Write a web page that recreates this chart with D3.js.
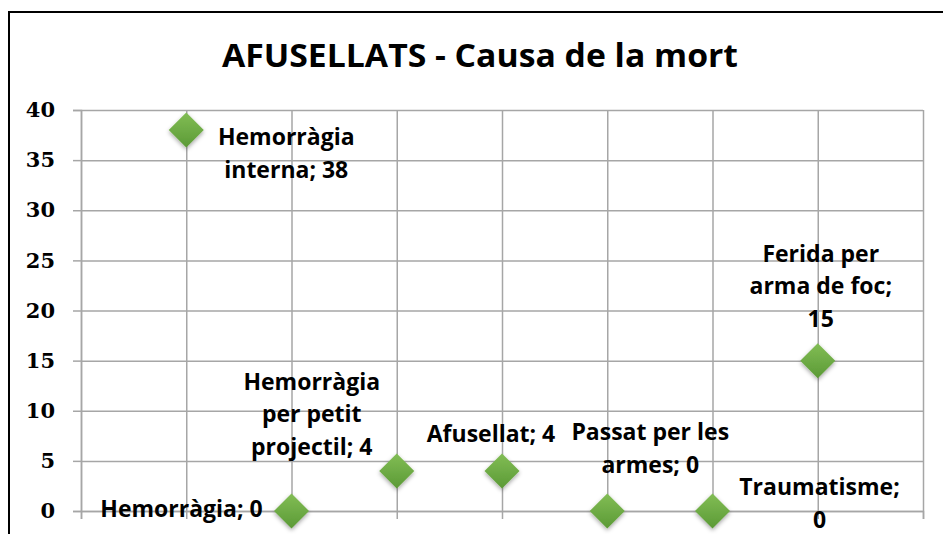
<!DOCTYPE html>
<html>
<head>
<meta charset="utf-8">
<script src="https://cdn.jsdelivr.net/npm/d3@7"></script>
<style>
  html, body { margin: 0; padding: 0; background: #fff; }
  svg { display: block; }
</style>
</head>
<body>
<svg id="chart" width="943" height="534"></svg>
<script>
// ---- data ----
const categories = [
  "Hemorràgia interna",
  "Hemorràgia",
  "Hemorràgia per petit projectil",
  "Afusellat",
  "Passat per les armes",
  "Traumatisme",
  "Ferida per arma de foc"
];
const xValues = [1, 2, 3, 4, 5, 6, 7];
const yValues = [38, 0, 4, 4, 0, 0, 15];
const labelLines = [
  ["Hemorràgia", "interna; 38"],
  ["Hemorràgia; 0"],
  ["Hemorràgia", "per petit", "projectil; 4"],
  ["Afusellat; 4"],
  ["Passat per les", "armes; 0"],
  ["Traumatisme;", "0"],
  ["Ferida per", "arma de foc;", "15"]
];
const yTicks = [0, 5, 10, 15, 20, 25, 30, 35, 40];
const xTicks = [0, 1, 2, 3, 4, 5, 6, 7, 8];
const title = "AFUSELLATS - Causa de la mort";

// label placement (offsets from the marker, in px): [dx of text centre, dy of first baseline]
const labelOffsets = [
  [100, 15], [-110, 6], [-85, -81], [-11, -29], [43, -71], [107, -16], [3, -99]
];

// ---- layout ----
const svg = d3.select("#chart");
const M = { left: 81, right: 923, top: 110, bottom: 511 };
const x = d3.scaleLinear().domain([0, 8]).range([M.left, M.right]);
const y = d3.scaleLinear().domain([0, 40]).range([M.bottom, M.top]);

// outer frame
svg.append("rect").attr("x", 9).attr("y", 12).attr("width", 960).attr("height", 560)
  .attr("fill", "none").attr("stroke", "#000").attr("stroke-width", 2);

// title
svg.append("text").attr("x", 480).attr("y", 67)
  .attr("text-anchor", "middle")
  .attr("font-family", "'Open Sans', sans-serif").attr("font-weight", 700)
  .attr("font-size", 33).attr("textLength", 516).attr("lengthAdjust", "spacingAndGlyphs")
  .attr("fill", "#000").text(title);

const gridColor = "#a6a6a6";
// horizontal gridlines + y ticks
const yAxis = d3.axisLeft(y).tickValues(yTicks).tickSize(8).tickPadding(18).tickFormat(d3.format("d"));
const gy = svg.append("g").attr("transform", `translate(${M.left},0)`).call(yAxis);
gy.select(".domain").attr("stroke", gridColor).attr("stroke-width", 1.5);
gy.selectAll(".tick line").attr("stroke", gridColor).attr("stroke-width", 1.5);
gy.selectAll(".tick text")
  .attr("font-family", "'DejaVu Serif', serif").attr("font-weight", 700).attr("font-size", 21)
  .attr("fill", "#000");
gy.selectAll(".tick").append("line")
  .attr("x1", 0).attr("x2", M.right - M.left)
  .attr("stroke", gridColor).attr("stroke-width", 1.5);

// vertical gridlines + x ticks (no labels)
const xAxis = d3.axisBottom(x).tickValues(xTicks).tickSize(8).tickFormat("");
const gx = svg.append("g").attr("transform", `translate(0,${M.bottom})`).call(xAxis);
gx.select(".domain").attr("stroke", gridColor).attr("stroke-width", 1.5);
gx.selectAll(".tick line").attr("stroke", gridColor).attr("stroke-width", 1.5);
gx.selectAll(".tick").append("line")
  .attr("y1", 0).attr("y2", M.top - M.bottom)
  .attr("stroke", gridColor).attr("stroke-width", 1.5);

// marker gradient + shadow
const defs = svg.append("defs");
const grad = defs.append("linearGradient").attr("id", "g").attr("x1", 0).attr("y1", 0).attr("x2", 0).attr("y2", 1);
grad.append("stop").attr("offset", "0%").attr("stop-color", "#82bd55");
grad.append("stop").attr("offset", "100%").attr("stop-color", "#5b9a36");
const f = defs.append("filter").attr("id", "sh").attr("x", "-50%").attr("y", "-50%").attr("width", "200%").attr("height", "200%");
f.append("feDropShadow").attr("dx", 0).attr("dy", 2).attr("stdDeviation", 2).attr("flood-color", "#000").attr("flood-opacity", 0.35);

const pts = xValues.map((xv, i) => ({ x: xv, y: yValues[i], name: categories[i], lines: labelLines[i], off: labelOffsets[i] }));
const R = 17.5;
svg.append("g").selectAll("path").data(pts).join("path")
  .attr("d", d => `M${x(d.x)},${y(d.y) - R}L${x(d.x) + R},${y(d.y)}L${x(d.x)},${y(d.y) + R}L${x(d.x) - R},${y(d.y)}Z`)
  .attr("fill", "url(#g)").attr("filter", "url(#sh)");

// data labels
const lg = svg.append("g");
pts.forEach(d => {
  const t = lg.append("text")
    .attr("text-anchor", "middle")
    .attr("font-family", "'Open Sans', sans-serif").attr("font-weight", 700).attr("font-size", 23)
    .attr("fill", "#000");
  d.lines.forEach((ln, j) => {
    t.append("tspan").attr("x", x(d.x) + d.off[0]).attr("y", y(d.y) + d.off[1] + j * 32.5).text(ln);
  });
});
</script>
</body>
</html>
